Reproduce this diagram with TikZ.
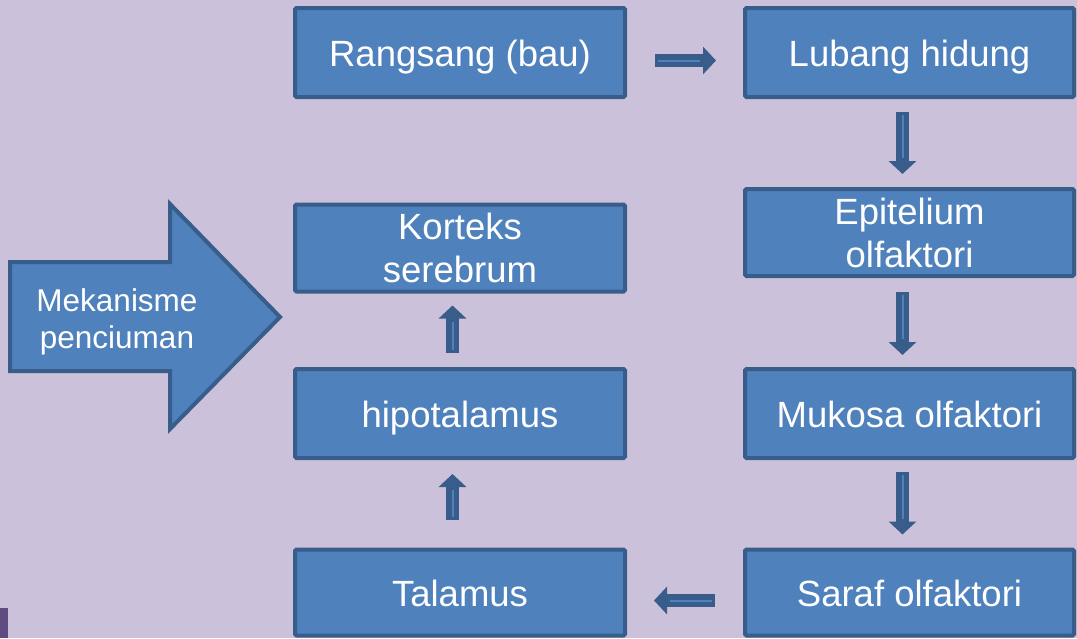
\documentclass[tikz,border=0pt]{standalone}
\usepackage{fontspec}
\setmainfont{Liberation Sans}
\usetikzlibrary{arrows.meta,calc}
\definecolor{bg}{HTML}{CCC1DA}
\definecolor{boxfill}{HTML}{4F81BD}
\definecolor{boxline}{HTML}{385D8A}
\definecolor{purp}{HTML}{5F4B80}
\newcommand{\blockarr}[2]{%
  \draw[smallarr] #1 -- #2;
  \draw[innerline] ($#1!3pt!#2$) -- ($#2!16pt!#1$);
}
\begin{document}
\begin{tikzpicture}[x=1pt,y=-1pt,
  box/.style={draw=boxline, line width=4pt, fill=boxfill, rounded corners=1.5pt,
    minimum width=330pt, minimum height=89pt, inner sep=0pt, text=white,
    font=\fontsize{36.5}{43}\selectfont, align=center},
  rbox/.style={box, minimum width=329pt},
  oneline/.style={text height=28pt, text depth=0pt},
  smallarr/.style={draw=boxline, line width=13pt, -{Triangle[width=27pt,length=13pt]}},
  innerline/.style={draw=boxfill, line width=2pt},
  bigarrow/.style={draw=boxline, line width=4pt, fill=boxfill, line join=miter}]
\useasboundingbox (0,0) rectangle (1077,638);
\fill[bg] (0,0) rectangle (1077,638);
\fill[purp] (0,608) rectangle (8,638);

% big arrow
\draw[bigarrow] (10,262) -- (170,262) -- (170,204) -- (280,317) -- (170,429) -- (170,371) -- (10,371) -- cycle;
\node[text=white, font=\fontsize{31.5}{37}\selectfont, align=center] (mek) at (117,322) {Mekanisme\\penciuman};

% boxes
\node[box, oneline] (rang) at (460,52.5) {Rangsang (bau)};
\node[rbox, oneline] (lub) at (909.5,52.5) {Lubang hidung};
\node[rbox, minimum height=87pt] (epi) at (909.5,232.5) {Epitelium\\olfaktori};
\node[rbox, oneline] (muk) at (909.5,413.5) {Mukosa olfaktori};
\node[rbox, oneline, minimum height=86pt] (saraf) at (909.5,592.5) {Saraf olfaktori};
\node[box, minimum height=87pt] (kort) at (460,248) {Korteks\\serebrum};
\node[box, oneline] (hipo) at (460,413.5) {hipotalamus};
\node[box, oneline, minimum height=86pt] (tal) at (460,592.5) {Talamus};

% connectors
\blockarr{($(rang.east)+(28,8)$)}{($(lub.west)+(-27,8)$)}
\blockarr{($(lub.south)+(-7,13)$)}{($(epi.north)+(-7,-13)$)}
\blockarr{($(epi.south)+(-7,14)$)}{($(muk.north)+(-7,-12)$)}
\blockarr{($(muk.south)+(-7,12)$)}{($(saraf.north)+(-7,-13)$)}
\blockarr{($(saraf.west)+(-28,8)$)}{($(tal.east)+(27,8)$)}
\blockarr{($(tal.north)+(-7.5,-28)$)}{($(hipo.south)+(-7.5,14)$)}
\blockarr{($(hipo.north)+(-7.5,-14)$)}{($(kort.south)+(-7.5,12)$)}
\end{tikzpicture}
\end{document}
